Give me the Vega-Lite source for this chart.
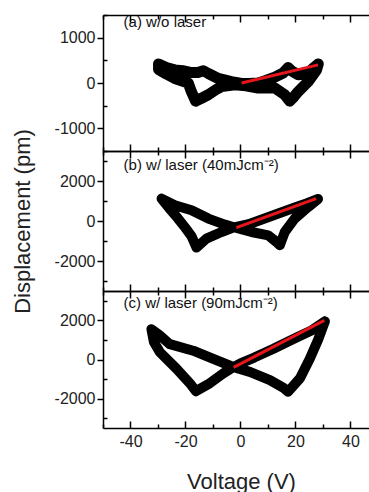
{
  "$schema": "https://vega.github.io/schema/vega-lite/v6.json",
  "background": "white",
  "padding": {"left": 11, "top": 14, "right": 0, "bottom": 0},
  "spacing": 0,
  "bounds": "flush",
  "config": {
    "view": {"stroke": null},
    "font": "Liberation Sans",
    "axis": {
      "domainColor": "#000",
      "domainWidth": 1.5,
      "tickColor": "#000",
      "tickWidth": 1.5,
      "labelFont": "Liberation Sans",
      "labelFontSize": 16,
      "labelColor": "#222",
      "titleFont": "Liberation Sans",
      "titleFontWeight": "normal",
      "titleFontSize": 22,
      "titleColor": "#222",
      "grid": false
    }
  },
  "datasets": {
    "loops": [
      {"panel": "a", "i": 0, "V": 28.3, "D": 420},
      {"panel": "a", "i": 1, "V": 26.5, "D": 330},
      {"panel": "a", "i": 2, "V": 24.6, "D": 220},
      {"panel": "a", "i": 3, "V": 21, "D": 180},
      {"panel": "a", "i": 4, "V": 18.5, "D": 270},
      {"panel": "a", "i": 5, "V": 17.3, "D": 340},
      {"panel": "a", "i": 6, "V": 15.5, "D": 220},
      {"panel": "a", "i": 7, "V": 12.5, "D": 130},
      {"panel": "a", "i": 8, "V": 9, "D": 50},
      {"panel": "a", "i": 9, "V": 6.4, "D": 0},
      {"panel": "a", "i": 10, "V": 3, "D": -10},
      {"panel": "a", "i": 11, "V": 0.4, "D": -10},
      {"panel": "a", "i": 12, "V": -3.3, "D": 30},
      {"panel": "a", "i": 13, "V": -8.1, "D": 100},
      {"panel": "a", "i": 14, "V": -11.7, "D": 210},
      {"panel": "a", "i": 15, "V": -13.5, "D": 270},
      {"panel": "a", "i": 16, "V": -15.5, "D": 230},
      {"panel": "a", "i": 17, "V": -17.8, "D": 230},
      {"panel": "a", "i": 18, "V": -21, "D": 270},
      {"panel": "a", "i": 19, "V": -23.9, "D": 290},
      {"panel": "a", "i": 20, "V": -27, "D": 340},
      {"panel": "a", "i": 21, "V": -29.8, "D": 420},
      {"panel": "a", "i": 22, "V": -29.8, "D": 300},
      {"panel": "a", "i": 23, "V": -27, "D": 200},
      {"panel": "a", "i": 24, "V": -23.9, "D": 100},
      {"panel": "a", "i": 25, "V": -19, "D": 0},
      {"panel": "a", "i": 26, "V": -17.8, "D": -200},
      {"panel": "a", "i": 27, "V": -16.3, "D": -400},
      {"panel": "a", "i": 28, "V": -14, "D": -330},
      {"panel": "a", "i": 29, "V": -11.7, "D": -260},
      {"panel": "a", "i": 30, "V": -9, "D": -150},
      {"panel": "a", "i": 31, "V": -6.9, "D": -80},
      {"panel": "a", "i": 32, "V": -2.1, "D": -40},
      {"panel": "a", "i": 33, "V": 2, "D": -60},
      {"panel": "a", "i": 34, "V": 6.4, "D": -110},
      {"panel": "a", "i": 35, "V": 12.5, "D": -110},
      {"panel": "a", "i": 36, "V": 16.1, "D": -260},
      {"panel": "a", "i": 37, "V": 17.9, "D": -400},
      {"panel": "a", "i": 38, "V": 19.5, "D": -300},
      {"panel": "a", "i": 39, "V": 21, "D": -190},
      {"panel": "a", "i": 40, "V": 24.6, "D": 30},
      {"panel": "a", "i": 41, "V": 27.6, "D": 280},
      {"panel": "a", "i": 42, "V": 28.3, "D": 420},

      {"panel": "b", "i": 0, "V": 28.2, "D": 1100},
      {"panel": "b", "i": 1, "V": 24, "D": 880},
      {"panel": "b", "i": 2, "V": 20, "D": 690},
      {"panel": "b", "i": 3, "V": 14, "D": 390},
      {"panel": "b", "i": 4, "V": 8, "D": 90},
      {"panel": "b", "i": 5, "V": 3, "D": -160},
      {"panel": "b", "i": 6, "V": -2.7, "D": -330},
      {"panel": "b", "i": 7, "V": -6.9, "D": -550},
      {"panel": "b", "i": 8, "V": -12.4, "D": -880},
      {"panel": "b", "i": 9, "V": -16, "D": -1330},
      {"panel": "b", "i": 10, "V": -17.8, "D": -760},
      {"panel": "b", "i": 11, "V": -20, "D": -350},
      {"panel": "b", "i": 12, "V": -22.7, "D": 120},
      {"panel": "b", "i": 13, "V": -26, "D": 650},
      {"panel": "b", "i": 14, "V": -28.7, "D": 1120},
      {"panel": "b", "i": 15, "V": -23.9, "D": 790},
      {"panel": "b", "i": 16, "V": -17.8, "D": 535},
      {"panel": "b", "i": 17, "V": -11.7, "D": 120},
      {"panel": "b", "i": 18, "V": -5.7, "D": -180},
      {"panel": "b", "i": 19, "V": -2.7, "D": -300},
      {"panel": "b", "i": 20, "V": 4, "D": -550},
      {"panel": "b", "i": 21, "V": 10.1, "D": -715},
      {"panel": "b", "i": 22, "V": 13.1, "D": -1050},
      {"panel": "b", "i": 23, "V": 14.3, "D": -1215},
      {"panel": "b", "i": 24, "V": 16.1, "D": -550},
      {"panel": "b", "i": 25, "V": 19.7, "D": 120},
      {"panel": "b", "i": 26, "V": 24.6, "D": 700},
      {"panel": "b", "i": 27, "V": 28.2, "D": 1100},

      {"panel": "c", "i": 0, "V": 30.7, "D": 1950},
      {"panel": "c", "i": 1, "V": 26, "D": 1500},
      {"panel": "c", "i": 2, "V": 20, "D": 1100},
      {"panel": "c", "i": 3, "V": 12, "D": 550},
      {"panel": "c", "i": 4, "V": 5, "D": 100},
      {"panel": "c", "i": 5, "V": 0, "D": -200},
      {"panel": "c", "i": 6, "V": -2.7, "D": -400},
      {"panel": "c", "i": 7, "V": -6.3, "D": -717},
      {"panel": "c", "i": 8, "V": -11.2, "D": -1217},
      {"panel": "c", "i": 9, "V": -16.2, "D": -1620},
      {"panel": "c", "i": 10, "V": -18.4, "D": -1217},
      {"panel": "c", "i": 11, "V": -23.3, "D": -467},
      {"panel": "c", "i": 12, "V": -29.3, "D": 367},
      {"panel": "c", "i": 13, "V": -31.5, "D": 900},
      {"panel": "c", "i": 14, "V": -32.4, "D": 1550},
      {"panel": "c", "i": 15, "V": -29.5, "D": 1250},
      {"panel": "c", "i": 16, "V": -25.7, "D": 783},
      {"panel": "c", "i": 17, "V": -17.2, "D": 450},
      {"panel": "c", "i": 18, "V": -9.9, "D": 33},
      {"panel": "c", "i": 19, "V": -2.7, "D": -383},
      {"panel": "c", "i": 20, "V": 3.4, "D": -633},
      {"panel": "c", "i": 21, "V": 10.7, "D": -1050},
      {"panel": "c", "i": 22, "V": 15.5, "D": -1433},
      {"panel": "c", "i": 23, "V": 17.3, "D": -1650},
      {"panel": "c", "i": 24, "V": 21.6, "D": -967},
      {"panel": "c", "i": 25, "V": 25.2, "D": 33},
      {"panel": "c", "i": 26, "V": 28.3, "D": 1033},
      {"panel": "c", "i": 27, "V": 30.7, "D": 1950}
    ],
    "fits": [
      {"panel": "a", "V": 0.4, "D": 0},
      {"panel": "a", "V": 28.2, "D": 400},
      {"panel": "b", "V": -1.5, "D": -330},
      {"panel": "b", "V": 27.5, "D": 1120},
      {"panel": "c", "V": -2.5, "D": -400},
      {"panel": "c", "V": 30.5, "D": 2000}
    ],
    "notes": [
      {"panel": "a", "V": -42.5, "D": 1350, "label": "(a) w/o laser"},
      {"panel": "b", "V": -42.5, "D": 2785, "label": "(b) w/ laser (40mJcm⁻²)"},
      {"panel": "c", "V": -42.5, "D": 2900, "label": "(c) w/ laser (90mJcm⁻²)"}
    ]
  },
  "vconcat": [
    {
      "width": 267,
      "height": 136,
      "encoding": {
        "y": {"field": "D", "type": "quantitative", "scale": {"domain": [-1500, 1500], "nice": false, "zero": false},
          "axis": {"values": [-1500, -1000, -500, 0, 500, 1000, 1500], "title": null, "labelPadding": 2,
            "labelExpr": "datum.value % 1000 === 0 ? (datum.value < 0 ? '-' + abs(datum.value) : '' + datum.value) : ''",
            "tickSize": {"condition": {"test": "datum.value % 1000 === 0", "value": 6}, "value": -4}}}
      },
      "layer": [
        {
          "data": {"name": "loops"},
          "transform": [{"filter": "datum.panel === 'a'"}],
          "mark": {"type": "line", "color": "#000", "strokeWidth": 11, "strokeJoin": "round", "strokeCap": "round"},
          "encoding": {
            "x": {"field": "V", "type": "quantitative", "scale": {"domain": [-50, 47.1], "nice": false, "zero": false},
              "axis": {"orient": "bottom", "values": [-50, -40, -30, -20, -10, 0, 10, 20, 30, 40], "labels": false, "title": null,
                "tickSize": {"condition": {"test": "datum.value % 20 === 0", "value": -7}, "value": -4}}},
            "order": {"field": "i", "type": "quantitative"}
          }
        },
        {
          "data": {"name": "fits"},
          "transform": [{"filter": "datum.panel === 'a'"}],
          "mark": {"type": "line", "color": "#e8161b", "strokeWidth": 3},
          "encoding": {
            "x": {"field": "V", "type": "quantitative",
              "axis": {"orient": "top", "values": [-50, -40, -30, -20, -10, 0, 10, 20, 30, 40], "labels": false, "title": null,
                "tickSize": {"condition": {"test": "datum.value % 20 === 0", "value": -7}, "value": -4}}}
          }
        },
        {
          "data": {"name": "notes"},
          "transform": [{"filter": "datum.panel === 'a'"}],
          "mark": {"type": "text", "align": "left", "baseline": "middle", "fontSize": 15, "font": "Liberation Sans", "color": "#111"},
          "encoding": {
            "x": {"field": "V", "type": "quantitative", "axis": null},
            "text": {"field": "label"}
          }
        }
      ]
    },
    {
      "width": 267,
      "height": 140,
      "encoding": {
        "y": {"field": "D", "type": "quantitative", "scale": {"domain": [-3500, 3500], "nice": false, "zero": false},
          "axis": {"values": [-3000, -2000, -1000, 0, 1000, 2000, 3000], "title": "Displacement (pm)", "titlePadding": 20, "labelPadding": 2,
            "labelExpr": "datum.value % 2000 === 0 ? (datum.value < 0 ? '-' + abs(datum.value) : '' + datum.value) : ''",
            "tickSize": {"condition": {"test": "datum.value % 2000 === 0", "value": 6}, "value": -4}}}
      },
      "layer": [
        {
          "data": {"name": "loops"},
          "transform": [{"filter": "datum.panel === 'b'"}],
          "mark": {"type": "line", "color": "#000", "strokeWidth": 10, "strokeJoin": "round", "strokeCap": "round"},
          "encoding": {
            "x": {"field": "V", "type": "quantitative", "scale": {"domain": [-50, 47.1], "nice": false, "zero": false},
              "axis": {"orient": "bottom", "values": [-50, -40, -30, -20, -10, 0, 10, 20, 30, 40], "labels": false, "title": null,
                "tickSize": {"condition": {"test": "datum.value % 20 === 0", "value": -7}, "value": -4}}},
            "order": {"field": "i", "type": "quantitative"}
          }
        },
        {
          "data": {"name": "fits"},
          "transform": [{"filter": "datum.panel === 'b'"}],
          "mark": {"type": "line", "color": "#e8161b", "strokeWidth": 3},
          "encoding": {
            "x": {"field": "V", "type": "quantitative",
              "axis": {"orient": "top", "values": [-50, -40, -30, -20, -10, 0, 10, 20, 30, 40], "labels": false, "title": null,
                "tickSize": {"condition": {"test": "datum.value % 20 === 0", "value": -7}, "value": -4}}}
          }
        },
        {
          "data": {"name": "notes"},
          "transform": [{"filter": "datum.panel === 'b'"}],
          "mark": {"type": "text", "align": "left", "baseline": "middle", "fontSize": 15, "font": "Liberation Sans", "color": "#111"},
          "encoding": {
            "x": {"field": "V", "type": "quantitative", "axis": null},
            "text": {"field": "label"}
          }
        }
      ]
    },
    {
      "width": 267,
      "height": 137,
      "encoding": {
        "y": {"field": "D", "type": "quantitative", "scale": {"domain": [-3500, 3500], "nice": false, "zero": false},
          "axis": {"values": [-3000, -2000, -1000, 0, 1000, 2000, 3000], "title": null, "labelPadding": 2,
            "labelExpr": "datum.value % 2000 === 0 ? (datum.value < 0 ? '-' + abs(datum.value) : '' + datum.value) : ''",
            "tickSize": {"condition": {"test": "datum.value % 2000 === 0", "value": 6}, "value": -4}}}
      },
      "layer": [
        {
          "data": {"name": "loops"},
          "transform": [{"filter": "datum.panel === 'c'"}],
          "mark": {"type": "line", "color": "#000", "strokeWidth": 10, "strokeJoin": "round", "strokeCap": "round"},
          "encoding": {
            "x": {"field": "V", "type": "quantitative", "scale": {"domain": [-50, 47.1], "nice": false, "zero": false},
              "axis": {"orient": "bottom", "values": [-50, -40, -30, -20, -10, 0, 10, 20, 30, 40], "title": "Voltage (V)", "titlePadding": 22, "titleX": 138, "labelPadding": 12,
                "labelExpr": "datum.value % 20 === 0 ? (datum.value < 0 ? '-' + abs(datum.value) : '' + datum.value) : ''",
                "tickSize": {"condition": {"test": "datum.value % 20 === 0", "value": -7}, "value": -4}}},
            "order": {"field": "i", "type": "quantitative"}
          }
        },
        {
          "data": {"name": "fits"},
          "transform": [{"filter": "datum.panel === 'c'"}],
          "mark": {"type": "line", "color": "#e8161b", "strokeWidth": 3},
          "encoding": {
            "x": {"field": "V", "type": "quantitative",
              "axis": {"orient": "top", "values": [-50, -40, -30, -20, -10, 0, 10, 20, 30, 40], "labels": false, "title": null,
                "tickSize": {"condition": {"test": "datum.value % 20 === 0", "value": -7}, "value": -4}}}
          }
        },
        {
          "data": {"name": "notes"},
          "transform": [{"filter": "datum.panel === 'c'"}],
          "mark": {"type": "text", "align": "left", "baseline": "middle", "fontSize": 15, "font": "Liberation Sans", "color": "#111"},
          "encoding": {
            "x": {"field": "V", "type": "quantitative", "axis": null},
            "text": {"field": "label"}
          }
        }
      ]
    }
  ]
}
